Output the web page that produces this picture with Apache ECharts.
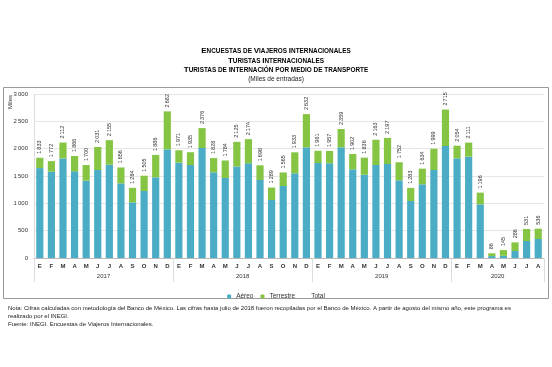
<!DOCTYPE html>
<html>
<head>
<meta charset="utf-8">
<script src="https://cdn.jsdelivr.net/npm/echarts@6/dist/echarts.min.js"></script>
<style>html,body{margin:0;padding:0;background:#fff;}#c{width:552px;height:367px;}</style>
</head>
<body>
<div id="c"></div>
<script>
const months = ['E','F','M','A','M','J','J','A','S','O','N','D',
                'E','F','M','A','M','J','J','A','S','O','N','D',
                'E','F','M','A','M','J','J','A','S','O','N','D',
                'E','F','M','A','M','J','J','A'];
const years = ['2017','2018','2019','2020'];
const yearCenters = [6, 18, 30, 40];
const yearBounds = [0, 12, 24, 36, 44];
const aereo = [1645,1580,1822,1585,1415,1610,1707,1366,1018,1226,1476,1988,
               1744,1701,2012,1567,1463,1674,1732,1427,1061,1317,1549,2024,
               1738,1732,2024,1622,1524,1701,1720,1421,1043,1348,1610,2049,
               1823,1854,982,35,40,128,311,348];
const terrestre = [188,192,290,281,285,421,448,290,266,279,410,694,
                   227,234,364,261,321,451,442,269,228,248,384,608,
                   223,225,335,280,312,462,477,331,240,286,389,666,
                   231,257,214,51,105,158,220,188];
const total = [1833,1772,2112,1866,1700,2031,2155,1656,1284,1505,1886,2682,
               1971,1935,2376,1828,1784,2125,2174,1696,1289,1565,1933,2632,
               1961,1957,2359,1902,1836,2163,2197,1752,1283,1634,1999,2715,
               2054,2111,1196,86,145,286,531,536];
const yTicks = [0, 500, 1000, 1500, 2000, 2500, 3000];

const fmt = v => String(v).replace(/\B(?=(\d{3})+(?!\d))/g, '\u2009');
const FONT = 'Liberation Sans, Arial, sans-serif';

const chart = echarts.init(document.getElementById('c'), null, {renderer: 'canvas'});

function smallCaps(str) {
  return str.split(' ').map(w => {
    const lower = w === w.toLowerCase();
    if (lower) return '{s|' + w.toUpperCase() + '}';
    return '{b|' + w[0] + '}' + (w.length > 1 ? '{s|' + w.slice(1).toUpperCase() + '}' : '');
  }).join('{s| }');
}
const richT = {
  b: {fontSize: 8, fontWeight: 'bold', fontFamily: FONT, color: '#111'},
  s: {fontSize: 6.4, fontWeight: 'bold', fontFamily: FONT, color: '#111'}
};

chart.setOption({
  animation: false,
  backgroundColor: '#fff',
  textStyle: {fontFamily: FONT},
  grid: {left: 34, right: 8, top: 94, bottom: 109},
  legend: {
    top: 288, left: 'center',
    itemWidth: 4, itemHeight: 4, itemGap: 7,
    textStyle: {fontSize: 6.5, color: '#333', fontFamily: FONT},
    data: ['Aéreo', 'Terrestre', 'Total']
  },
  xAxis: [{
    type: 'category',
    data: months,
    axisLine: {lineStyle: {color: '#bbb'}},
    axisTick: {show: false},
    axisLabel: {fontSize: 6, fontWeight: 'bold', color: '#333', margin: 5, interval: 0}
  }, {
    type: 'value',
    min: 0, max: 44,
    position: 'bottom',
    axisLine: {show: false},
    splitLine: {show: false},
    axisTick: {show: true, customValues: yearBounds, length: 24, lineStyle: {color: '#ddd'}},
    axisLabel: {
      customValues: yearCenters, fontSize: 6, color: '#333', margin: 15,
      formatter: v => years[yearCenters.indexOf(v)] || ''
    }
  }],
  yAxis: {
    type: 'value', min: 0, max: 3000, interval: 500,
    axisLine: {show: true, lineStyle: {color: '#ddd'}},
    axisTick: {show: false},
    splitLine: {lineStyle: {color: '#e6e6e6'}},
    axisLabel: {fontSize: 6, color: '#333', margin: 6, formatter: v => fmt(v)}
  },
  series: [{
    name: 'Aéreo', type: 'bar', stack: 'a', data: aereo,
    barWidth: '62%', itemStyle: {color: '#4BACC6'}
  }, {
    name: 'Terrestre', type: 'bar', stack: 'a', data: terrestre,
    barWidth: '62%', itemStyle: {color: '#86C443'}
  }, {
    name: 'Total', type: 'bar', data: total, barGap: '-100%',
    barWidth: '62%', itemStyle: {color: 'rgba(0,0,0,0)'}, z: 5,
    label: {
      show: true, position: 'top', rotate: 90, align: 'left', verticalAlign: 'middle',
      distance: 4, fontSize: 5.5, color: '#333', formatter: p => fmt(p.value)
    }
  }],
  graphic: [{
    type: 'rect', shape: {x: 3.5, y: 87.5, width: 545, height: 211},
    style: {fill: 'none', stroke: '#9a9a9a', lineWidth: 1}, z: -1
  }, {
    type: 'text', x: 276, y: 51,
    style: {text: smallCaps('Encuestas de Viajeros Internacionales'), rich: richT, align: 'center', verticalAlign: 'middle'}
  }, {
    type: 'text', x: 276, y: 61,
    style: {text: smallCaps('Turistas Internacionales'), rich: richT, align: 'center', verticalAlign: 'middle'}
  }, {
    type: 'text', x: 276, y: 70,
    style: {text: smallCaps('Turistas de Internación por medio de transporte'), rich: richT, align: 'center', verticalAlign: 'middle'}
  }, {
    type: 'text', x: 276, y: 79,
    style: {text: '(Miles de entradas)', fontSize: 6.5, fill: '#222', fontFamily: FONT, align: 'center', verticalAlign: 'middle'}
  }, {
    type: 'text', x: 10, y: 102, rotation: Math.PI / 2,
    style: {text: 'Miles', fontSize: 6, fill: '#333', fontFamily: FONT, align: 'center', verticalAlign: 'middle'}
  }, {
    type: 'text', x: 8, y: 308,
    style: {text: 'Nota: Cifras calculadas con metodología del Banco de México. Las cifras hasta julio de 2018 fueron recopiladas por el Banco de México. A partir de agosto del mismo año, este programa es', fontSize: 6, fill: '#222', fontFamily: FONT, verticalAlign: 'middle'}
  }, {
    type: 'text', x: 8, y: 316,
    style: {text: 'realizado por el INEGI.', fontSize: 6, fill: '#222', fontFamily: FONT, verticalAlign: 'middle'}
  }, {
    type: 'text', x: 8, y: 324,
    style: {text: 'Fuente: INEGI. Encuestas de Viajeros Internacionales.', fontSize: 6, fill: '#222', fontFamily: FONT, verticalAlign: 'middle'}
  }]
});
</script>
</body>
</html>
